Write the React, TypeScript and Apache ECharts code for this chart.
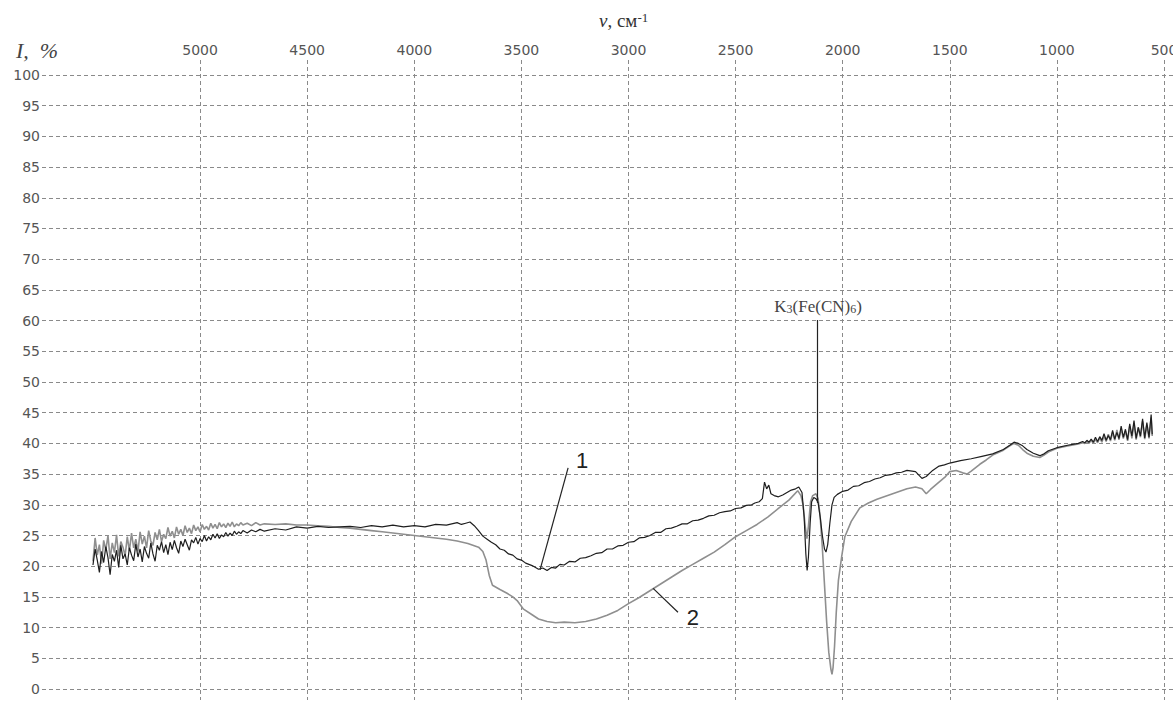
import React, { useEffect, useRef } from "react";
import * as echarts from "echarts";

// Wavenumber tick labels (top axis) and intensity tick labels (left axis)
const wnTicks = [500, 1000, 1500, 2000, 2500, 3000, 3500, 4000, 4500, 5000];
const iTicks = [0, 5, 10, 15, 20, 25, 30, 35, 40, 45, 50, 55, 60, 65, 70, 75, 80, 85, 90, 95, 100];

// Spectrum 1 (black): [wavenumber, I %]
const spectrum1: number[][] = [
  [5500, 20.2], [5490, 22.8], [5480, 21.0], [5470, 19.0], [5460, 22.4], [5450, 20.6], [5440, 23.2],
  [5430, 21.4], [5420, 18.6], [5410, 21.9], [5400, 20.8], [5390, 22.6], [5380, 19.8], [5370, 23.4],
  [5360, 21.2], [5350, 22.0], [5340, 20.2], [5330, 23.0], [5320, 21.8], [5310, 20.9], [5300, 23.6],
  [5290, 21.5], [5280, 22.8], [5270, 20.7], [5260, 23.2], [5250, 22.1], [5240, 21.3], [5230, 23.8],
  [5220, 22.0], [5210, 20.8], [5200, 23.4], [5190, 22.6], [5180, 24.0], [5170, 22.2], [5160, 23.5],
  [5150, 21.9], [5140, 23.9], [5130, 22.7], [5120, 24.2], [5110, 23.0], [5100, 22.1], [5090, 24.1],
  [5080, 23.2], [5070, 24.4], [5060, 23.5], [5050, 22.6], [5040, 24.3], [5030, 23.8], [5020, 24.7],
  [5010, 23.6], [5000, 24.5], [4990, 24.0], [4980, 25.0], [4970, 24.1], [4960, 24.8], [4950, 24.3],
  [4940, 25.2], [4930, 24.6], [4920, 25.3], [4910, 24.5], [4900, 25.1], [4890, 24.8], [4880, 25.5],
  [4870, 24.9], [4860, 25.4], [4850, 25.0], [4840, 25.7], [4830, 25.2], [4820, 25.6], [4810, 25.3],
  [4800, 25.8], [4780, 25.4], [4760, 25.9], [4740, 25.6], [4720, 26.0], [4700, 25.7],
  [4650, 26.1], [4600, 25.9], [4550, 26.4], [4500, 26.2], [4450, 26.5], [4400, 26.3], [4350, 26.4],
  [4300, 26.5], [4250, 26.3], [4200, 26.6], [4150, 26.4], [4100, 26.7], [4050, 26.4], [4000, 26.6],
  [3950, 26.4], [3900, 26.8], [3850, 26.7], [3800, 27.1], [3780, 26.8], [3760, 27.0], [3740, 27.2],
  [3720, 26.6], [3700, 25.8], [3680, 24.9], [3660, 24.4], [3640, 23.9], [3620, 23.5], [3600, 22.8],
  [3580, 22.6], [3560, 22.0], [3540, 21.8], [3520, 21.2], [3500, 21.0], [3480, 20.5], [3450, 20.1],
  [3420, 19.5], [3400, 19.7], [3380, 19.3], [3360, 19.8], [3340, 19.7], [3320, 20.3], [3300, 20.2],
  [3275, 20.8], [3250, 20.7], [3225, 21.3], [3200, 21.4], [3175, 21.7], [3150, 22.1], [3125, 22.2],
  [3100, 22.8], [3075, 22.8], [3050, 23.3], [3025, 23.4], [3000, 23.9], [2975, 24.0], [2950, 24.6],
  [2925, 24.7], [2900, 25.0], [2875, 25.5], [2850, 25.5], [2825, 26.1], [2800, 26.2], [2775, 26.5],
  [2750, 26.9], [2725, 26.9], [2700, 27.4], [2675, 27.5], [2650, 27.8], [2625, 28.2], [2600, 28.3],
  [2575, 28.7], [2550, 28.9], [2525, 29.0], [2500, 29.4], [2475, 29.5], [2450, 29.9], [2425, 30.0],
  [2410, 30.3], [2390, 30.5], [2375, 31.0], [2365, 33.7], [2355, 32.6], [2345, 33.2], [2335, 31.8],
  [2320, 31.5], [2300, 31.3], [2280, 31.6], [2260, 32.0], [2240, 32.4], [2220, 32.6], [2205, 32.9],
  [2190, 32.0], [2180, 28.0], [2172, 22.0], [2166, 19.3], [2160, 21.5], [2152, 27.0], [2145, 30.5],
  [2135, 31.2], [2125, 31.0], [2115, 30.4], [2105, 28.0], [2095, 25.0], [2085, 22.8], [2078, 22.3],
  [2070, 23.5], [2060, 27.0], [2050, 30.0], [2040, 31.2], [2025, 31.7], [2000, 32.2], [1975, 32.4],
  [1950, 33.0], [1925, 33.1], [1900, 33.6], [1875, 33.8], [1850, 34.2], [1825, 34.4], [1800, 34.8],
  [1775, 34.9], [1750, 35.2], [1725, 35.3], [1700, 35.6], [1660, 35.4], [1630, 34.3], [1610, 34.6],
  [1580, 35.6], [1550, 36.3], [1525, 36.5], [1500, 36.8], [1450, 37.2], [1400, 37.5], [1350, 37.9],
  [1300, 38.3], [1250, 39.0], [1220, 39.7], [1200, 40.2], [1180, 40.0], [1160, 39.6], [1140, 39.0],
  [1110, 38.4], [1080, 38.0], [1060, 38.3], [1040, 38.8], [1000, 39.3], [950, 39.7], [900, 40.0],
  [880, 40.3], [870, 40.1], [860, 40.5], [850, 40.2], [840, 40.7], [830, 40.2], [820, 41.0],
  [810, 40.3], [800, 41.1], [790, 40.5], [780, 41.6], [770, 40.5], [760, 41.3], [750, 40.6],
  [740, 42.1], [730, 40.7], [720, 41.8], [710, 40.8], [700, 42.8], [690, 41.0], [680, 42.3],
  [670, 40.6], [660, 43.2], [650, 41.2], [640, 43.7], [630, 40.8], [620, 42.6], [610, 41.2],
  [600, 44.0], [590, 40.9], [580, 43.4], [570, 41.0], [560, 44.7], [555, 41.5],
];

// Spectrum 2 (gray): [wavenumber, I %]
const spectrum2: number[][] = [
  [5500, 20.8], [5490, 24.6], [5480, 21.8], [5470, 23.5], [5460, 20.4], [5450, 24.2], [5440, 22.6],
  [5430, 25.0], [5420, 21.2], [5410, 23.8], [5400, 22.2], [5390, 25.1], [5380, 21.6], [5370, 24.0],
  [5360, 23.1], [5350, 21.7], [5340, 24.8], [5330, 22.5], [5320, 25.4], [5310, 23.0], [5300, 24.4],
  [5290, 22.4], [5280, 25.6], [5270, 23.6], [5260, 24.9], [5250, 23.0], [5240, 25.8], [5230, 24.1],
  [5220, 23.4], [5210, 25.5], [5200, 24.3], [5190, 26.0], [5180, 24.0], [5170, 25.2], [5160, 24.5],
  [5150, 26.3], [5140, 24.9], [5130, 25.7], [5120, 24.6], [5110, 26.4], [5100, 25.2], [5090, 26.0],
  [5080, 25.0], [5070, 26.6], [5060, 25.5], [5050, 26.2], [5040, 25.3], [5030, 26.7], [5020, 25.8],
  [5010, 26.4], [5000, 25.6], [4990, 26.8], [4980, 26.0], [4970, 26.5], [4960, 25.9], [4950, 27.0],
  [4940, 26.2], [4930, 26.8], [4920, 26.1], [4910, 27.1], [4900, 26.4], [4890, 26.9], [4880, 26.3],
  [4870, 27.0], [4860, 26.5], [4850, 27.2], [4840, 26.4], [4830, 26.9], [4820, 26.6], [4810, 27.1],
  [4800, 26.7], [4780, 27.0], [4760, 26.6], [4740, 27.1], [4720, 26.7], [4700, 26.9],
  [4650, 26.8], [4600, 26.9], [4550, 26.7], [4500, 26.7], [4450, 26.6], [4400, 26.5], [4350, 26.3],
  [4300, 26.2], [4250, 26.0], [4200, 25.8], [4150, 25.6], [4100, 25.4], [4050, 25.2], [4000, 25.0],
  [3950, 24.8], [3900, 24.6], [3850, 24.4], [3800, 24.1], [3750, 23.7], [3700, 23.1], [3680, 22.4],
  [3665, 21.0], [3650, 18.5], [3635, 16.9], [3600, 16.2], [3567, 15.6], [3540, 15.0], [3520, 14.4],
  [3490, 13.0], [3450, 12.1], [3420, 11.4], [3380, 11.0], [3340, 10.8], [3300, 10.9], [3250, 10.8],
  [3200, 11.0], [3150, 11.4], [3100, 12.0], [3050, 12.8], [3000, 13.9], [2950, 14.9], [2900, 16.0],
  [2850, 17.1], [2800, 18.2], [2750, 19.3], [2700, 20.3], [2650, 21.3], [2600, 22.3], [2550, 23.5],
  [2500, 24.8], [2450, 25.8], [2400, 26.8], [2350, 28.0], [2300, 29.4], [2250, 30.8], [2210, 32.3],
  [2195, 31.5], [2185, 30.0], [2175, 26.5], [2167, 24.5], [2160, 26.5], [2150, 30.5], [2140, 31.5],
  [2125, 31.8], [2115, 31.0], [2105, 28.0], [2095, 23.0], [2085, 17.0], [2075, 11.0], [2065, 6.0],
  [2055, 3.2], [2050, 2.4], [2045, 3.5], [2038, 7.0], [2030, 12.5], [2020, 17.7], [2005, 21.5],
  [1990, 24.8], [1960, 27.3], [1920, 29.5], [1880, 30.3], [1840, 30.9], [1800, 31.4], [1750, 32.0],
  [1700, 32.6], [1660, 32.9], [1630, 32.6], [1610, 31.8], [1590, 32.5], [1560, 33.4], [1520, 34.6],
  [1500, 35.4], [1470, 35.6], [1440, 35.2], [1420, 35.0], [1400, 35.5], [1360, 36.6], [1330, 37.3],
  [1300, 38.1], [1250, 38.9], [1220, 39.6], [1200, 40.0], [1180, 39.7], [1160, 39.0], [1140, 38.4],
  [1110, 37.9], [1080, 37.7], [1060, 38.1], [1040, 38.6], [1000, 39.2], [950, 39.6], [900, 39.9],
  [880, 40.1], [870, 40.0], [860, 40.3], [850, 40.0], [840, 40.5], [830, 40.0], [820, 40.7],
  [810, 40.1], [800, 40.9], [790, 40.2], [780, 41.2], [770, 40.3], [760, 41.5], [750, 40.4],
  [740, 41.8], [730, 40.5], [720, 42.2], [710, 40.6], [700, 42.4], [690, 40.8], [680, 42.0],
  [670, 40.4], [660, 42.8], [650, 40.8], [640, 43.2], [630, 40.6], [620, 42.6], [610, 41.0],
  [600, 43.6], [590, 40.7], [580, 43.0], [570, 40.8], [560, 44.2], [555, 41.2],
];

// Annotation pointers (data coordinates)
const pointer1 = [[3413, 19.4], [3282, 36.0]];
const pointer2 = [[2885, 16.4], [2769, 12.5]];
const pointerK = [[2120, 30.3], [2120, 60.1]];
const label1 = [3217, 37.2];
const label2 = [2699, 11.6];
const labelK = [2115, 62.3];

export default function App() {
  const ref = useRef<HTMLDivElement>(null);
  useEffect(() => {
    if (!ref.current) return;
    const chart = echarts.init(ref.current, null, { renderer: "svg" });
    const gridLine = { show: true, lineStyle: { color: "#8a8a8a", type: [4, 3] as any, width: 1 } };
    const option: any = {
      animation: false,
      backgroundColor: "#ffffff",
      title: [
        {
          text: "{i|ν}{n|, см}{s|-1}",
          left: 594,
          top: 6,
          textStyle: {
            fontWeight: "normal",
            rich: {
              i: { fontFamily: "Liberation Serif", fontStyle: "italic", fontWeight: "normal", fontSize: 19, color: "#333" },
              n: { fontFamily: "Liberation Serif", fontWeight: "normal", fontSize: 19, color: "#333" },
              s: { fontFamily: "Liberation Serif", fontWeight: "normal", fontSize: 13, color: "#333", verticalAlign: "top" },
            },
          },
        },
        {
          text: "I,  %",
          left: 11,
          top: 34,
          textStyle: { fontFamily: "Liberation Serif", fontStyle: "italic", fontWeight: "normal", fontSize: 22, color: "#444" },
        },
      ],
      grid: { left: 42, right: 0, top: 60, bottom: 4, containLabel: false, outerBoundsMode: "none" },
      xAxis: {
        type: "value",
        position: "top",
        inverse: true,
        min: 458,
        max: 5738,
        axisLine: { show: false },
        axisTick: { show: false, customValues: wnTicks },
        axisLabel: {
          customValues: wnTicks,
          formatter: (v: number) => String(v),
          margin: 3,
          fontFamily: "DejaVu Sans",
          fontSize: 14,
          color: "#555",
        },
        splitLine: gridLine,
      },
      yAxis: {
        type: "value",
        min: -1.79,
        max: 102.44,
        axisLine: { show: false },
        axisTick: { show: false, customValues: iTicks },
        axisLabel: {
          customValues: iTicks,
          formatter: (v: number) => String(v),
          margin: 2,
          fontFamily: "DejaVu Sans",
          fontSize: 14,
          color: "#555",
        },
        splitLine: gridLine,
      },
      series: [
        {
          type: "line",
          name: "2",
          data: spectrum2,
          showSymbol: false,
          lineStyle: { color: "#8f8f8f", width: 1.6 },
          z: 2,
        },
        {
          type: "line",
          name: "1",
          data: spectrum1,
          showSymbol: false,
          lineStyle: { color: "#1e1e1e", width: 1.2 },
          z: 3,
          markLine: {
            silent: true,
            symbol: ["none", "none"],
            label: { show: false },
            lineStyle: { color: "#222", type: "solid", width: 1.2 },
            data: [
              [{ coord: pointer1[0] }, { coord: pointer1[1] }],
              [{ coord: pointer2[0] }, { coord: pointer2[1] }],
              [{ coord: pointerK[0] }, { coord: pointerK[1] }],
            ],
          },
          markPoint: {
            silent: true,
            symbol: "circle",
            symbolSize: 0,
            label: { show: true, position: "inside", color: "#222" },
            data: [
              { coord: label1, label: { formatter: "1", fontFamily: "Liberation Sans", fontSize: 22 } },
              { coord: label2, label: { formatter: "2", fontFamily: "Liberation Sans", fontSize: 22 } },
              {
                coord: labelK,
                label: {
                  formatter: "{m|K}{s|3}{m|(Fe(CN)}{s|6}{m|)}",
                  rich: {
                    m: { fontFamily: "Liberation Serif", fontSize: 17, color: "#444" },
                    s: { fontFamily: "Liberation Serif", fontSize: 12, color: "#444", verticalAlign: "bottom" },
                  },
                },
              },
            ],
          },
        },
      ],
    };
    chart.setOption(option);
    return () => chart.dispose();
  }, []);
  return <div ref={ref} style={{ position: "absolute", left: 0, top: 0, width: 1173, height: 704 }} />;
}
